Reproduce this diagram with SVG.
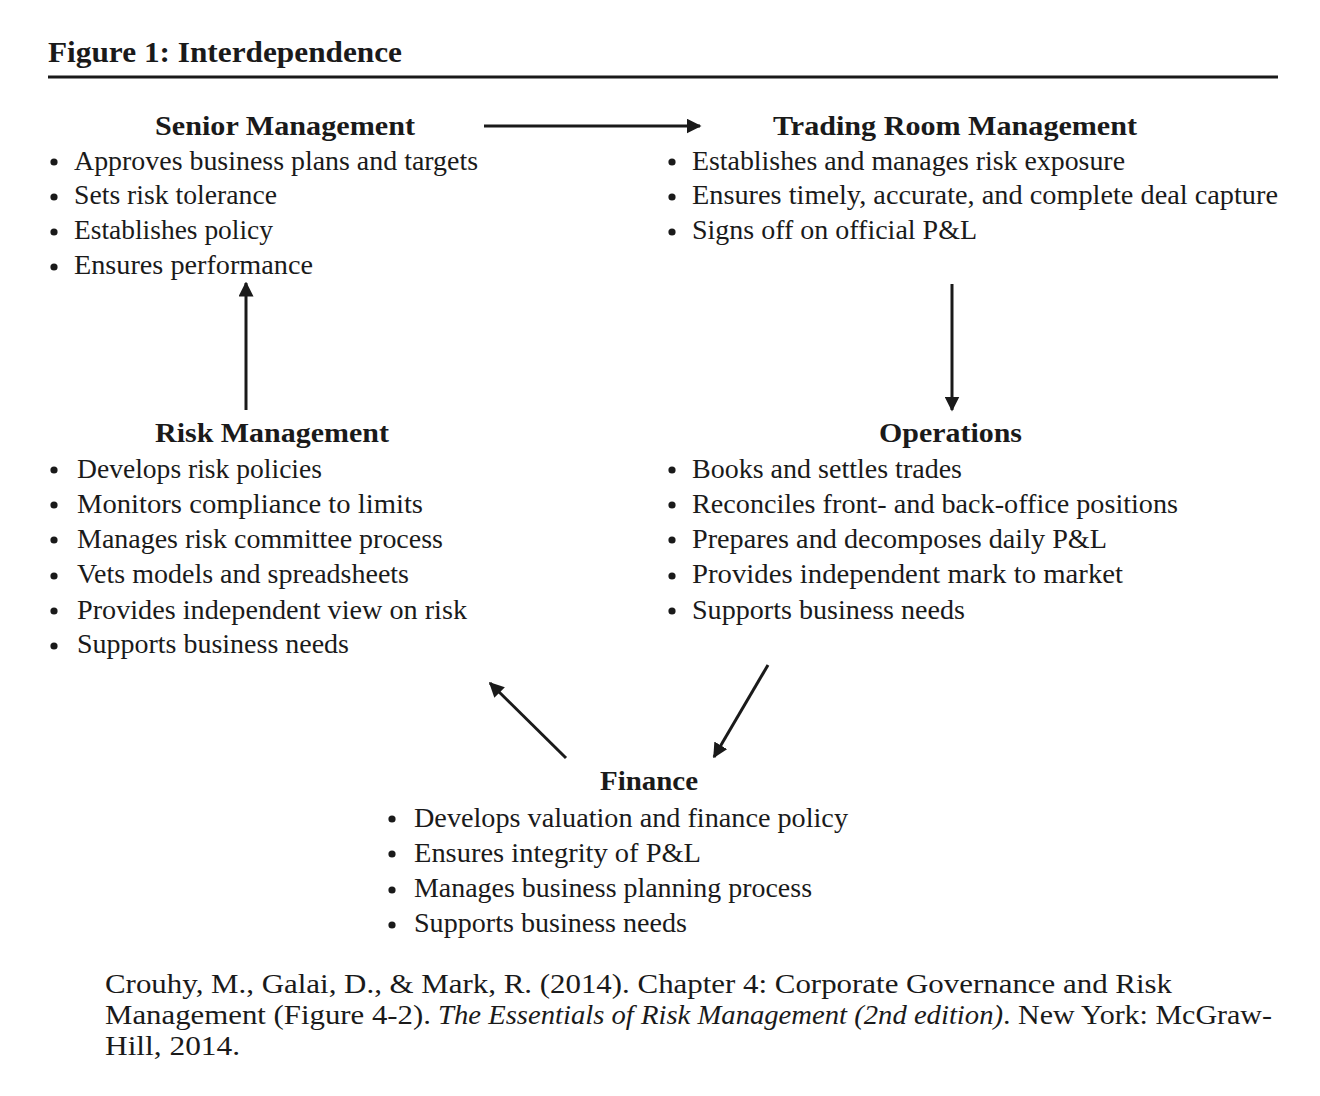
<svg xmlns="http://www.w3.org/2000/svg" width="1320" height="1096" viewBox="0 0 1320 1096">
<style>
text{font-family:"Liberation Serif","Times New Roman",serif;fill:#1a1a1a}
.t{font-size:29px;font-weight:bold}
.h{font-size:28px;font-weight:bold}
.b{font-size:27px}
.c{font-size:28px}
.i{font-style:italic}
.dot{fill:#1a1a1a}
.arr{stroke:#1a1a1a;stroke-width:3;fill:none;marker-end:url(#ah)}
</style>
<defs>
<marker id="ah" viewBox="0 0 10 10" refX="9" refY="5" markerWidth="5" markerHeight="5" orient="auto" markerUnits="strokeWidth">
<path d="M0,0 L10,5 L0,10 Z" fill="#1a1a1a"/>
</marker>
</defs>
<rect width="1320" height="1096" fill="#fff"/>
<text class="t" x="48" y="62" textLength="354" lengthAdjust="spacingAndGlyphs">Figure 1: Interdependence</text>
<line x1="48" y1="77" x2="1278" y2="77" stroke="#1a1a1a" stroke-width="3"/>

<g id="senior">
<text class="h" x="155" y="135" textLength="260" lengthAdjust="spacingAndGlyphs">Senior Management</text>
<circle class="dot" cx="54" cy="162" r="3.6"/><text class="b" x="74" y="170" textLength="404" lengthAdjust="spacingAndGlyphs">Approves business plans and targets</text>
<circle class="dot" cx="54" cy="197" r="3.6"/><text class="b" x="74" y="204" textLength="203" lengthAdjust="spacingAndGlyphs">Sets risk tolerance</text>
<circle class="dot" cx="54" cy="232" r="3.6"/><text class="b" x="74" y="239" textLength="199" lengthAdjust="spacingAndGlyphs">Establishes policy</text>
<circle class="dot" cx="54" cy="267" r="3.6"/><text class="b" x="74" y="274" textLength="239" lengthAdjust="spacingAndGlyphs">Ensures performance</text>
</g>

<g id="trading">
<text class="h" x="773" y="135" textLength="364" lengthAdjust="spacingAndGlyphs">Trading Room Management</text>
<circle class="dot" cx="672" cy="162" r="3.6"/><text class="b" x="692" y="170" textLength="433" lengthAdjust="spacingAndGlyphs">Establishes and manages risk exposure</text>
<circle class="dot" cx="672" cy="197" r="3.6"/><text class="b" x="692" y="204" textLength="586" lengthAdjust="spacingAndGlyphs">Ensures timely, accurate, and complete deal capture</text>
<circle class="dot" cx="672" cy="232" r="3.6"/><text class="b" x="692" y="239" textLength="285" lengthAdjust="spacingAndGlyphs">Signs off on official P&amp;L</text>
</g>

<g id="risk">
<text class="h" x="155" y="442" textLength="234" lengthAdjust="spacingAndGlyphs">Risk Management</text>
<circle class="dot" cx="54" cy="470" r="3.6"/><text class="b" x="77" y="478" textLength="245" lengthAdjust="spacingAndGlyphs">Develops risk policies</text>
<circle class="dot" cx="54" cy="505" r="3.6"/><text class="b" x="77" y="513" textLength="346" lengthAdjust="spacingAndGlyphs">Monitors compliance to limits</text>
<circle class="dot" cx="54" cy="540" r="3.6"/><text class="b" x="77" y="548" textLength="366" lengthAdjust="spacingAndGlyphs">Manages risk committee process</text>
<circle class="dot" cx="54" cy="576" r="3.6"/><text class="b" x="77" y="583" textLength="332" lengthAdjust="spacingAndGlyphs">Vets models and spreadsheets</text>
<circle class="dot" cx="54" cy="611" r="3.6"/><text class="b" x="77" y="619" textLength="390" lengthAdjust="spacingAndGlyphs">Provides independent view on risk</text>
<circle class="dot" cx="54" cy="646" r="3.6"/><text class="b" x="77" y="653" textLength="272" lengthAdjust="spacingAndGlyphs">Supports business needs</text>
</g>

<g id="operations">
<text class="h" x="879" y="442" textLength="143" lengthAdjust="spacingAndGlyphs">Operations</text>
<circle class="dot" cx="672" cy="470" r="3.6"/><text class="b" x="692" y="478" textLength="270" lengthAdjust="spacingAndGlyphs">Books and settles trades</text>
<circle class="dot" cx="672" cy="505" r="3.6"/><text class="b" x="692" y="513" textLength="486" lengthAdjust="spacingAndGlyphs">Reconciles front- and back-office positions</text>
<circle class="dot" cx="672" cy="540" r="3.6"/><text class="b" x="692" y="548" textLength="415" lengthAdjust="spacingAndGlyphs">Prepares and decomposes daily P&amp;L</text>
<circle class="dot" cx="672" cy="576" r="3.6"/><text class="b" x="692" y="583" textLength="431" lengthAdjust="spacingAndGlyphs">Provides independent mark to market</text>
<circle class="dot" cx="672" cy="611" r="3.6"/><text class="b" x="692" y="619" textLength="273" lengthAdjust="spacingAndGlyphs">Supports business needs</text>
</g>

<g id="finance">
<text class="h" x="600" y="790" textLength="98" lengthAdjust="spacingAndGlyphs">Finance</text>
<circle class="dot" cx="392" cy="819" r="3.6"/><text class="b" x="414" y="827" textLength="434" lengthAdjust="spacingAndGlyphs">Develops valuation and finance policy</text>
<circle class="dot" cx="392" cy="854" r="3.6"/><text class="b" x="414" y="862" textLength="287" lengthAdjust="spacingAndGlyphs">Ensures integrity of P&amp;L</text>
<circle class="dot" cx="392" cy="890" r="3.6"/><text class="b" x="414" y="897" textLength="398" lengthAdjust="spacingAndGlyphs">Manages business planning process</text>
<circle class="dot" cx="392" cy="925" r="3.6"/><text class="b" x="414" y="932" textLength="273" lengthAdjust="spacingAndGlyphs">Supports business needs</text>
</g>

<g id="connectors">
<line class="arr" x1="484" y1="126" x2="700" y2="126"/>
<line class="arr" x1="952" y1="284" x2="952" y2="410"/>
<line class="arr" x1="246" y1="410" x2="246" y2="283"/>
<line class="arr" x1="566" y1="758" x2="490" y2="683"/>
<line class="arr" x1="768" y1="665" x2="714" y2="757"/>
</g>

<g id="citation">
<text class="c" x="105" y="993" textLength="1067" lengthAdjust="spacingAndGlyphs">Crouhy, M., Galai, D., &amp; Mark, R. (2014). Chapter 4: Corporate Governance and Risk</text>
<text class="c" x="105" y="1024" textLength="326" lengthAdjust="spacingAndGlyphs">Management (Figure 4-2).</text>
<text class="c i" x="438" y="1024" textLength="565" lengthAdjust="spacingAndGlyphs">The Essentials of Risk Management (2nd edition)</text>
<text class="c" x="1003" y="1024" textLength="269" lengthAdjust="spacingAndGlyphs">. New York: McGraw-</text>
<text class="c" x="105" y="1055" textLength="135" lengthAdjust="spacingAndGlyphs">Hill, 2014.</text>
</g>
</svg>
